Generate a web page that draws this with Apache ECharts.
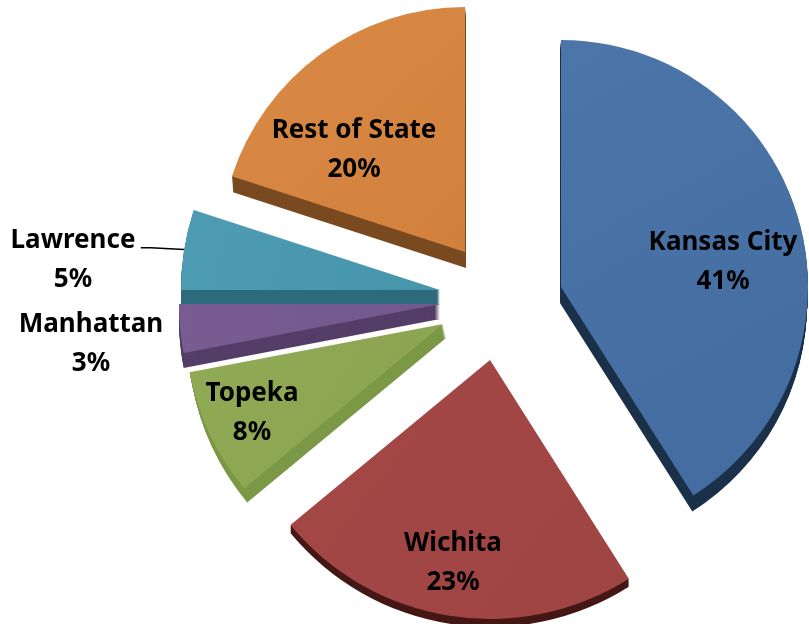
<!DOCTYPE html>
<html>
<head>
<meta charset="utf-8">
<style>html,body{margin:0;background:#fff}#chart{width:809px;height:624px}</style>
<script src="https://cdn.jsdelivr.net/npm/echarts@6/dist/echarts.min.js"></script>
</head>
<body>
<div id="chart"></div>
<script>
const categories = ['Kansas City', 'Wichita', 'Topeka', 'Manhattan', 'Lawrence', 'Rest of State'];
const shares = [41, 23, 8, 3, 5, 20];

// exploded position of every slice, and how thick its side looks
const centers = [[561, 287], [490, 360], [443, 324], [440, 304], [440, 290], [465, 252]];
const radii = [247, 259, 258, 261, 259, 245];
const depths = [16, 8, 14, 15, 15, 16];
const sideShift = [-1, 0, 3, 0, 0, 1]; // sideways lean of the side
const topColors = [['#4c76aa', '#426c9f'], ['#a44846', '#9e4442'], ['#90aa56', '#89a350'], ['#785c92', '#72588c'], ['#4d9cb2', '#4795ab'], ['#d98a45', '#d2813d']];
const sideColors = ['#1b3049', '#451715', '#7a9845', '#543e68', '#2e6a7e', '#7a4a20'];
const labelSpots = [[723, 262], [453, 563], [252, 413], [91, 344], [77, 247], [354, 150]];
const zOrder = [5, 6, 4, 3, 2, 1]; // later slices sit over the sides of the earlier ones

const labelFont = { fontFamily: 'Noto Sans', fontWeight: 'bold', fontSize: 26, lineHeight: 39, color: '#000' };

const slicePie = (i, fill, dy, z, withLabel) => {
    const before = shares.slice(0, i).reduce((a, b) => a + b, 0);
    const outside = categories[i] === 'Lawrence';
    const dx = sideShift[i] * dy / depths[i];
    return {
        type: 'pie',
        silent: true,
        animation: false,
        clockwise: true,
        avoidLabelOverlap: false,
        startAngle: 90 - before * 3.6,
        center: [centers[i][0] + dx, centers[i][1] + dy],
        radius: [0, radii[i]],
        z: z,
        emphasis: { disabled: true },
        labelLine: { show: false },
        labelLayout: withLabel ? { x: labelSpots[i][0], y: labelSpots[i][1], align: 'center', verticalAlign: 'middle' } : undefined,
        data: [
            {
                name: categories[i],
                value: shares[i],
                itemStyle: { color: fill },
                label: withLabel
                    ? (outside
                        ? {
                            // blank first line and end spans place the leader line's anchor clear of the text
                            show: true,
                            position: 'outside',
                            formatter: '{gap| }\n{txt|{b}}{end| }\n{txt|{c}%}{end| }',
                            rich: {
                                gap: { fontSize: 10, lineHeight: 26 },
                                end: { fontSize: 10, width: 8 },
                                txt: { ...labelFont }
                            }
                        }
                        : { show: true, position: 'inside', formatter: '{b}\n{c}%', ...labelFont })
                    : { show: false },
                labelLine: outside && withLabel
                    ? { show: true, length: 10, length2: 10, smooth: false, lineStyle: { color: '#000', width: 1.5 } }
                    : { show: false }
            },
            {
                name: 'rest',
                value: 100 - shares[i],
                itemStyle: { color: 'rgba(0,0,0,0)' },
                label: { show: false },
                labelLine: { show: false }
            }
        ]
    };
};

const series = [];
categories.forEach((name, i) => {
    const base = zOrder[i] * 10;
    for (let d = depths[i]; d >= 1; d--) {
        series.push(slicePie(i, sideColors[i], d, base, false));
    }
    series.push(slicePie(i, {
        type: 'linear', x: 0, y: 0, x2: 1, y2: 1,
        colorStops: [{ offset: 0, color: topColors[i][0] }, { offset: 1, color: topColors[i][1] }]
    }, 0, base + 1, true));
});

const chartInstance = echarts.init(document.getElementById('chart'));
chartInstance.setOption({
    backgroundColor: '#fff',
    animation: false,
    series: series
});
</script>
</body>
</html>
